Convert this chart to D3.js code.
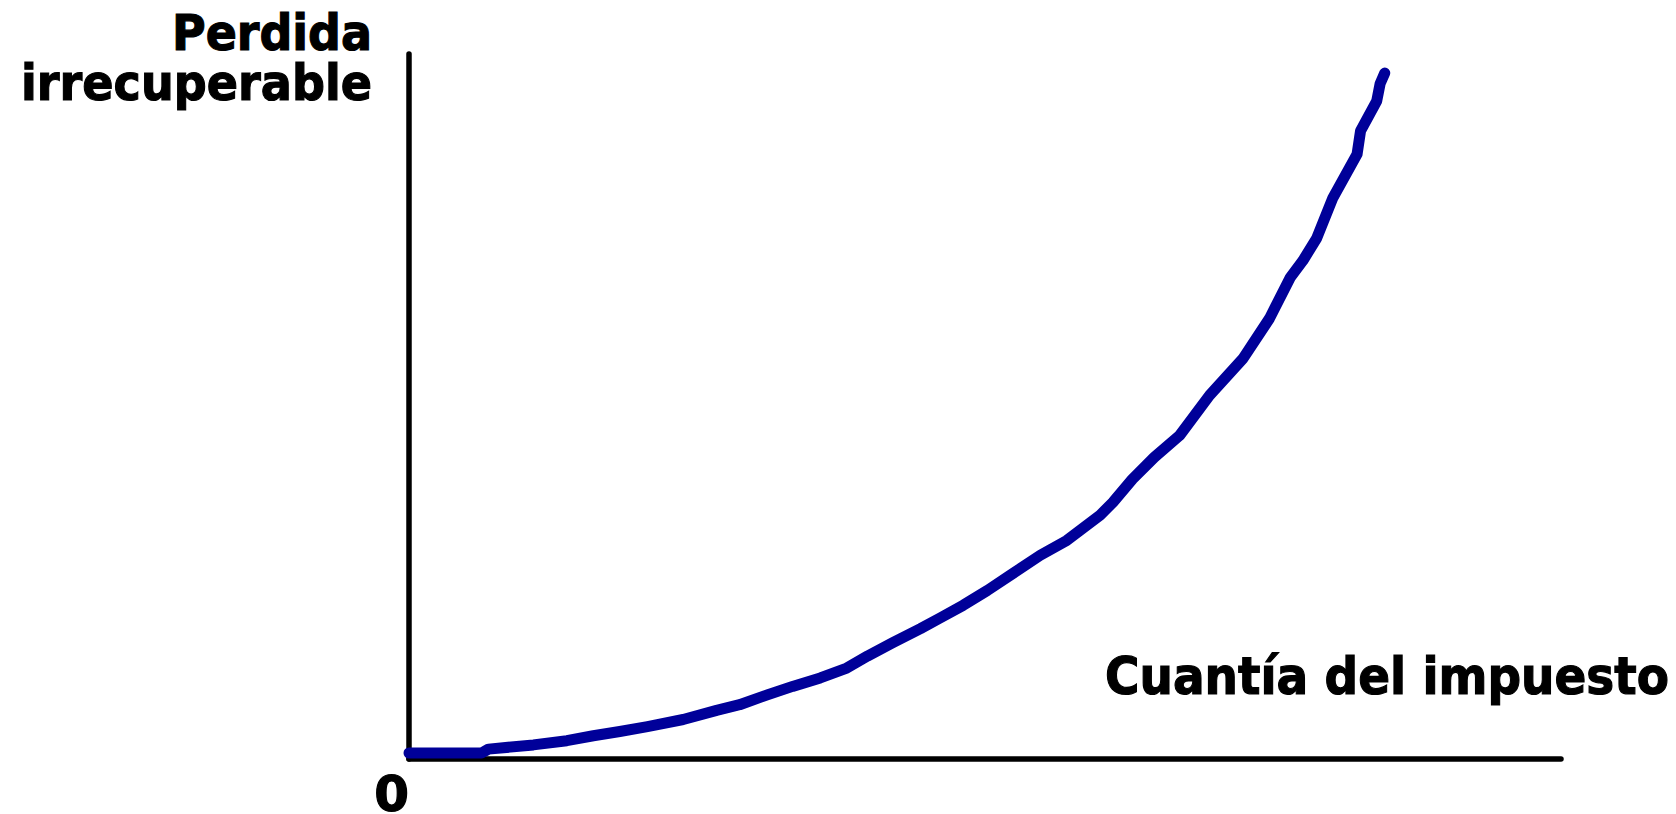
<!DOCTYPE html>
<html>
    <head>
        <meta charset="utf-8">
        <title>Perdida irrecuperable</title>
        <script src="https://d3js.org/d3.v7.min.js"></script>
        <style>
            body { margin: 0; background: #fff; }
            text { font-family: "DejaVu Sans", Verdana, sans-serif; font-weight: bold; fill: #000; stroke: #000; stroke-width: 1.2; }
        </style>
    </head>
    <body>
        <svg width="1676" height="814"></svg>
        <script>
            // datos (cuantía del impuesto vs. pérdida irrecuperable)
            const impuesto = [0, 6.3, 6.9, 10.8, 13.7, 16.0, 18.3, 20.7, 23.8, 26.7, 28.7, 31.1, 33.3, 35.7, 38.0,
                39.8, 42.0, 44.4, 46.1, 48.1, 50.2, 52.4, 54.8, 57.1, 60.0, 61.1, 62.8, 64.7, 66.9, 69.5,
                72.4, 74.7, 76.5, 77.6, 78.8, 80.2, 82.3, 82.6, 84.0, 84.3, 84.7];
            const perdida = [0.85, 0.85, 1.4, 2.0, 2.6, 3.3, 3.9, 4.6, 5.6, 6.9, 7.7, 9.1, 10.3, 11.5, 12.9,
                14.6, 16.5, 18.5, 20.0, 21.8, 23.9, 26.3, 28.9, 31.0, 34.6, 36.4, 39.7, 42.8, 45.9, 51.6,
                56.8, 62.5, 68.3, 70.7, 73.9, 79.6, 85.8, 89.1, 93.3, 95.8, 97.3];
            const etiquetaY = ["Perdida", "irrecuperable"];
            const etiquetaX = "Cuantía del impuesto";
            const etiquetaOrigen = "0";

            const svg = d3.select("svg");

            // escalas
            const x = d3.scaleLinear().domain([0, 100]).range([409, 1561]),
                y = d3.scaleLinear().domain([0, 100]).range([759, 54]);

            // ejes (sin marcas)
            svg.append("line")
                .attr("x1", x(0)).attr("x2", x(0))
                .attr("y1", y(0)).attr("y2", y(100))
                .attr("stroke", "#000").attr("stroke-width", 5.5)
                .attr("stroke-linecap", "round");
            svg.append("line")
                .attr("x1", x(0)).attr("x2", x(100))
                .attr("y1", y(0)).attr("y2", y(0))
                .attr("stroke", "#000").attr("stroke-width", 5.5)
                .attr("stroke-linecap", "round");

            // curva
            const datos = impuesto.map((d, i) => ({ t: d, p: perdida[i] }));
            const linea = d3.line()
                .x((d) => x(d.t))
                .y((d) => y(d.p))
                .curve(d3.curveLinear);

            svg.append("path")
                .datum(datos)
                .attr("d", linea)
                .attr("fill", "none")
                .attr("stroke", "#000099")
                .attr("stroke-width", 11)
                .attr("stroke-linejoin", "round")
                .attr("stroke-linecap", "round");

            // textos
            const anchosY = [200, 351];
            etiquetaY.forEach((s, i) => {
                svg.append("text")
                    .attr("x", 372).attr("y", 50 + i * 50)
                    .attr("text-anchor", "end")
                    .attr("font-size", 50)
                    .attr("textLength", anchosY[i])
                    .attr("lengthAdjust", "spacingAndGlyphs")
                    .text(s);
            });

            svg.append("text")
                .attr("x", 1105).attr("y", 694)
                .attr("font-size", 52)
                .attr("textLength", 564)
                .attr("lengthAdjust", "spacingAndGlyphs")
                .text(etiquetaX);

            svg.append("text")
                .attr("x", 409).attr("y", 811)
                .attr("text-anchor", "end")
                .attr("font-size", 50)
                .text(etiquetaOrigen);
        </script>
    </body>
</html>
